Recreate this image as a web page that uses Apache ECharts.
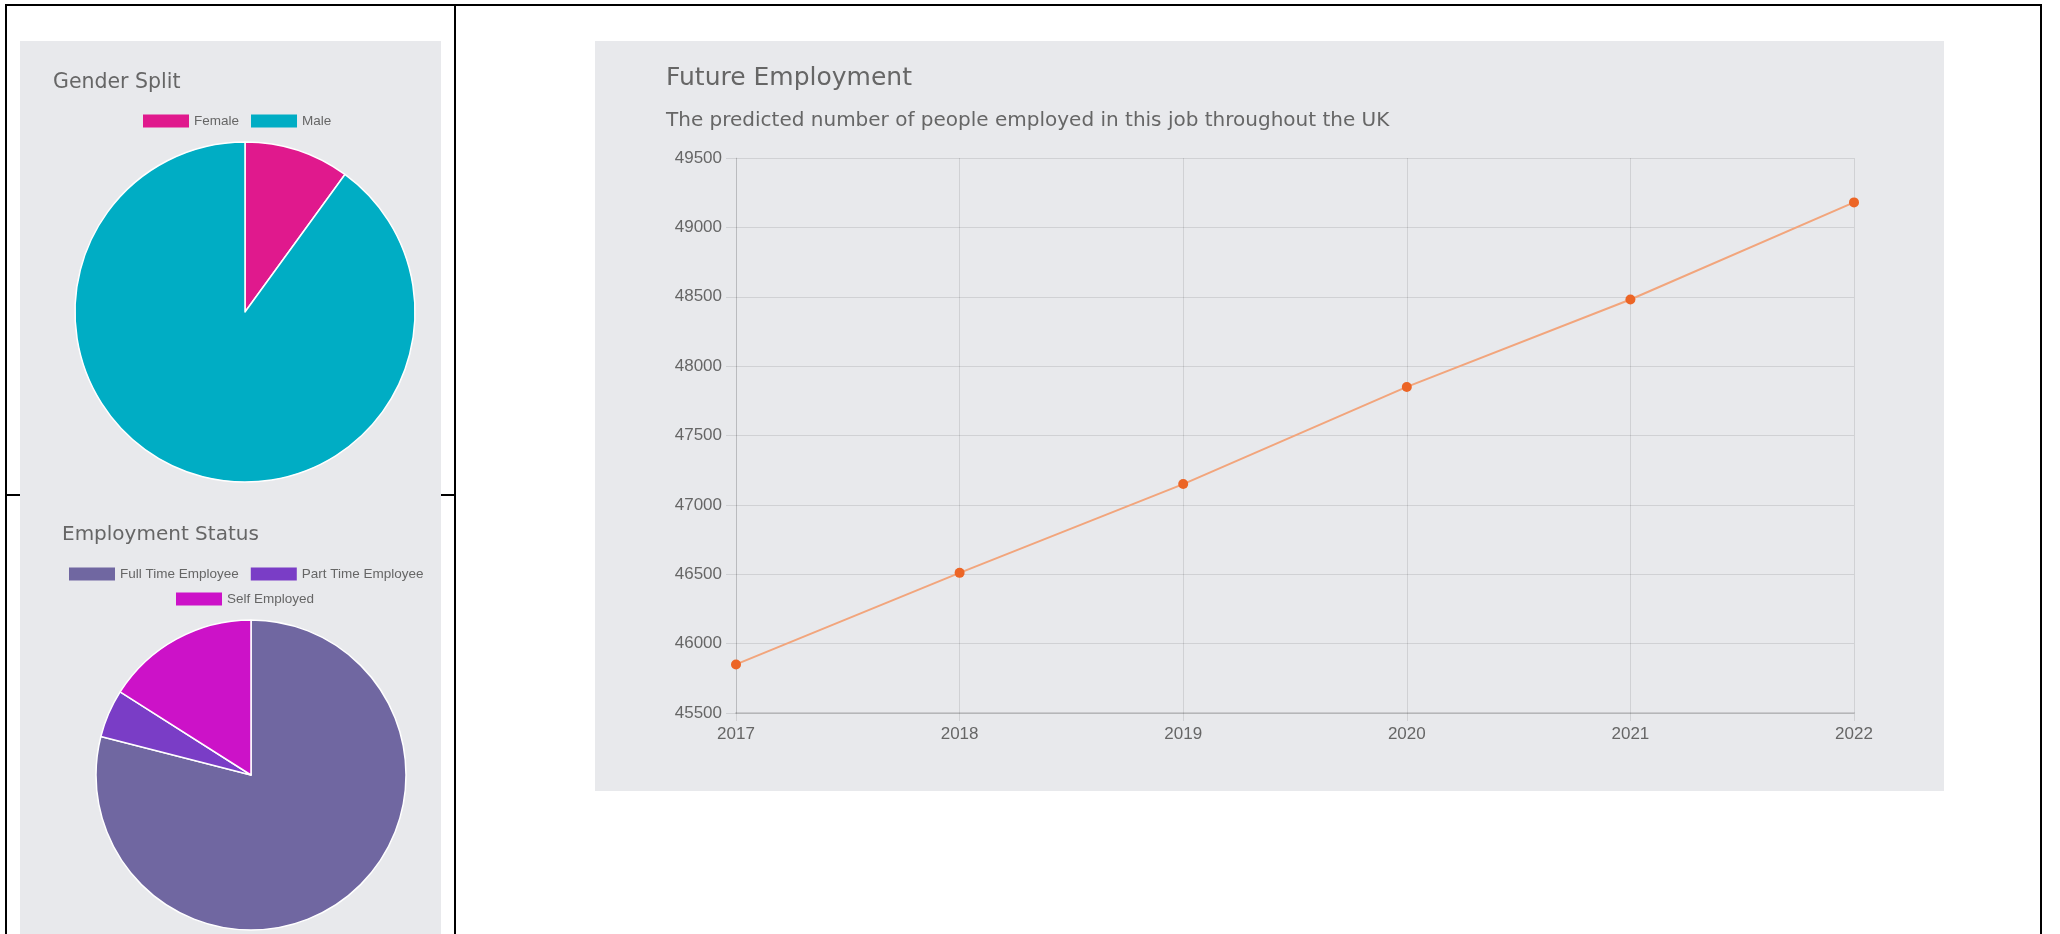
<!DOCTYPE html>
<html>
<head>
<meta charset="utf-8">
<title>Job profile charts</title>
<script src="https://cdn.jsdelivr.net/npm/echarts@6.0.0/dist/echarts.min.js"></script>
<style>
    html, body { margin: 0; padding: 0; background: #fff; }
    #chart { width: 2060px; height: 934px; }
</style>
</head>
<body>
<div id="chart"></div>
<script>
// gender split pie
const genderNames = ['Female', 'Male']
const genderValues = [10, 90]
const genderColors = ['#e0198d', '#00adc4']

// employment status pie
const statusNames = ['Full Time Employee', 'Part Time Employee', 'Self Employed']
const statusValues = [79, 5, 16]
const statusColors = ['#7067a1', '#7a3dc6', '#cc12c8']

// future employment line
const years = ['2017', '2018', '2019', '2020', '2021', '2022']
const employed = [45850, 46510, 47150, 47850, 48480, 49180]
const yMin = 45500
const yMax = 49500
const yStep = 500

const panelBg = '#e8e9ec'
const textGrey = '#666'
const titleFont = 'DejaVu Sans'

let chart = echarts.init(document.getElementById('chart'))

// table lines + grey panels behind the charts
const line = (x1, y1, x2, y2) => ({
    type: 'line',
    z: 0,
    shape: { x1, y1, x2, y2 },
    style: { stroke: '#000', lineWidth: 2 }
})

const titleStyle = (size) => ({ fontFamily: titleFont, fontWeight: 'normal', fontSize: size, color: textGrey })

let option = {
    animation: false,
    graphic: {
        elements: [
            line(6, 495, 455, 495),
            { type: 'rect', z: 0, shape: { x: 20, y: 41, width: 421, height: 893 }, style: { fill: panelBg } },
            { type: 'rect', z: 0, shape: { x: 595, y: 41, width: 1349, height: 750 }, style: { fill: panelBg } },
            line(5, 5, 2042, 5),
            line(6, 4, 6, 934),
            line(455, 4, 455, 934),
            line(2041, 4, 2041, 934)
        ]
    },
    title: [
        { text: 'Gender Split', left: 53, top: 72, padding: 0, textStyle: titleStyle(20.5) },
        { text: 'Employment Status', left: 62, top: 525, padding: 0, textStyle: titleStyle(20) },
        { text: 'Future Employment', left: 666, top: 66, padding: 0, textStyle: titleStyle(25) },
        { text: 'The predicted number of people employed in this job throughout the UK', left: 666, top: 111, padding: 0, textStyle: titleStyle(20) }
    ],
    legend: [
        { data: genderNames, left: 143, top: 114, padding: 0 },
        { data: statusNames.slice(0, 2), left: 69, top: 567, padding: 0 },
        { data: statusNames.slice(2), left: 176, top: 592, padding: 0 }
    ].map(l => Object.assign({
        icon: 'rect',
        itemWidth: 46,
        itemHeight: 13,
        itemGap: 12,
        selectedMode: false,
        itemStyle: { borderWidth: 0 },
        textStyle: { fontFamily: 'Liberation Sans', fontSize: 13.5, color: textGrey }
    }, l)),
    grid: { left: 736, right: 206, top: 158, bottom: 221 },
    xAxis: {
        type: 'category',
        data: years,
        boundaryGap: false,
        axisLine: { lineStyle: { color: 'rgba(0,0,0,0.13)', width: 2 } },
        axisTick: { show: true, length: 8, lineStyle: { color: 'rgba(0,0,0,0.1)' } },
        axisLabel: { margin: 13, fontFamily: 'Liberation Sans', fontSize: 17, color: textGrey },
        splitLine: { show: true, lineStyle: { color: 'rgba(0,0,0,0.1)' } }
    },
    yAxis: {
        type: 'value',
        min: yMin,
        max: yMax,
        interval: yStep,
        axisLine: { show: true, lineStyle: { color: 'rgba(0,0,0,0.1)' } },
        axisTick: { show: true, length: 10, lineStyle: { color: 'rgba(0,0,0,0.1)' } },
        axisLabel: { margin: 14, fontFamily: 'Liberation Sans', fontSize: 17, color: textGrey, formatter: v => String(v) },
        splitLine: { lineStyle: { color: 'rgba(0,0,0,0.1)' } }
    },
    series: [
        {
            type: 'pie',
            center: [245, 312],
            radius: 170,
            label: { show: false },
            labelLine: { show: false },
            itemStyle: { borderColor: '#fff', borderWidth: 1.5 },
            data: genderNames.map((n, i) => ({ name: n, value: genderValues[i], itemStyle: { color: genderColors[i] } }))
        },
        {
            type: 'pie',
            center: [251, 775],
            radius: 155,
            label: { show: false },
            labelLine: { show: false },
            itemStyle: { borderColor: '#fff', borderWidth: 1.5 },
            data: statusNames.map((n, i) => ({ name: n, value: statusValues[i], itemStyle: { color: statusColors[i] } }))
        },
        {
            type: 'line',
            data: employed,
            symbol: 'circle',
            symbolSize: 10,
            lineStyle: { color: '#f2a57c', width: 2 },
            itemStyle: { color: '#ec6526' }
        }
    ]
}

chart.setOption(option)
</script>
</body>
</html>
